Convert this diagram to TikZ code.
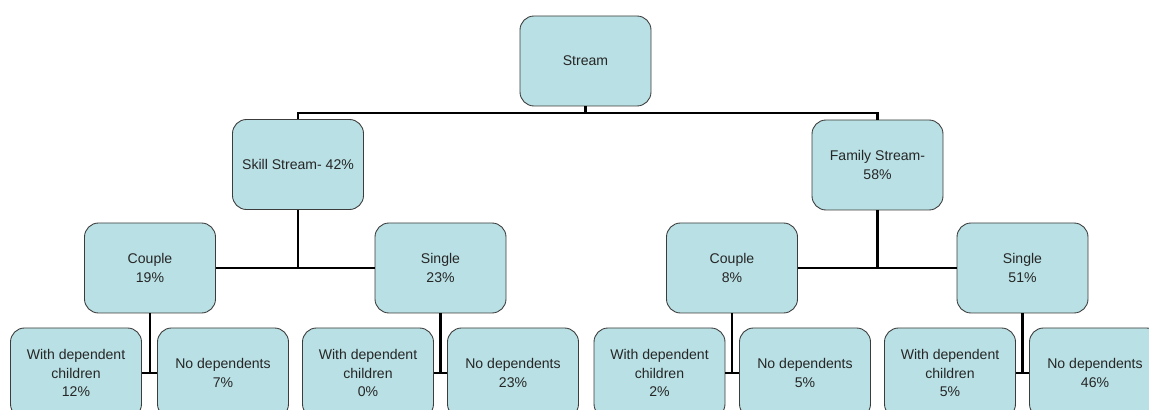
\documentclass[tikz,border=0pt]{standalone}
\usepackage{fontspec}
\setmainfont{Liberation Sans}
\usepackage{tikz}
\usetikzlibrary{calc}
\usetikzlibrary{positioning}

\definecolor{boxfill}{RGB}{185,224,228}
\definecolor{boxline}{RGB}{60,60,60}

\tikzset{
  box/.style={draw=boxline, line width=0.5pt, fill=boxfill, rounded corners=0.28cm,
    minimum width=2.62cm, minimum height=1.8cm, align=center, text=black!85,
    font=\fontsize{8}{10.5}\selectfont, inner sep=1pt},
  link/.style={draw=black, line width=1.5pt},
}

\begin{document}
\begin{tikzpicture}
                \useasboundingbox (0,0) rectangle (22.98,8.2);
                \clip (0,0) rectangle (22.98,8.2);
                % top
                \node[box] (stream) at (11.71,6.98) {Stream};
                \node[box] (skill) at (5.96,4.91) {Skill Stream- 42\%};
                \node[box] (family) at (17.55,4.90) {Family Stream-\\58\%};
                % second row
                \node[box] (coupleL) at (3.00,2.84) {Couple\\19\%};
                \node[box] (singleL) at (8.81,2.84) {Single\\23\%};
                \node[box] (coupleR) at (14.64,2.84) {Couple\\8\%};
                \node[box] (singleR) at (20.45,2.84) {Single\\51\%};
                % leaves
                \node[box] (leafA) at (1.52,0.74) {With dependent\\children\\12\%};
                \node[box] (leafB) at (4.46,0.74) {No dependents\\7\%};
                \node[box] (leafC) at (7.36,0.74) {With dependent\\children\\0\%};
                \node[box] (leafD) at (10.26,0.74) {No dependents\\23\%};
                \node[box] (leafE) at (13.19,0.74) {With dependent\\children\\2\%};
                \node[box] (leafF) at (16.10,0.74) {No dependents\\5\%};
                \node[box] (leafG) at (19.00,0.74) {With dependent\\children\\5\%};
                \node[box] (leafH) at (21.90,0.74) {No dependents\\46\%};
                % connectors
                \coordinate (jtop) at (11.71,5.94);
                \draw[link] (stream.south) -- (jtop);
                \draw[link] (skill.north) |- (jtop) -| (family.north);
                \draw[link] (skill.south) -- (skill.south |- coupleL.east);
                \draw[link] (coupleL.east) -- (singleL.west);
                \draw[link] (family.south) -- (family.south |- coupleR.east);
                \draw[link] (coupleR.east) -- (singleR.west);
                \draw[link] (coupleL.south) -- (coupleL.south |- leafA.east);
                \draw[link] (leafA.east) -- (leafB.west);
                \draw[link] (singleL.south) -- (singleL.south |- leafC.east);
                \draw[link] (leafC.east) -- (leafD.west);
                \draw[link] (coupleR.south) -- (coupleR.south |- leafE.east);
                \draw[link] (leafE.east) -- (leafF.west);
                \draw[link] (singleR.south) -- (singleR.south |- leafG.east);
                \draw[link] (leafG.east) -- (leafH.west);
\end{tikzpicture}
\end{document}
